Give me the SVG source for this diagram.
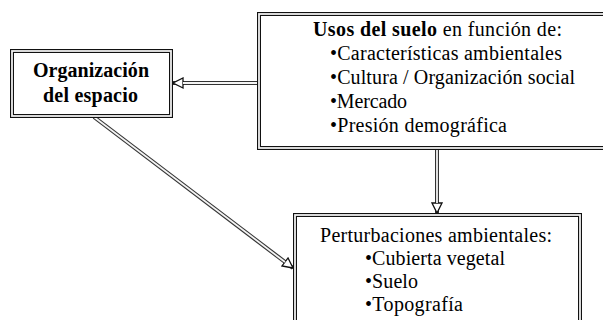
<svg xmlns="http://www.w3.org/2000/svg" width="603" height="320" viewBox="0 0 603 320">
<style>
  .box-o { fill: #fff; stroke: #111; stroke-width: 4; }
  .box-i { fill: none; stroke: #f0f0f0; stroke-width: 1.8; }
  .ln-o { fill: none; stroke: #333; stroke-width: 4; }
  .ln-i { fill: none; stroke: #f4f4f4; stroke-width: 1.8; }
  text { font-family: "Liberation Serif", "Times New Roman", serif; font-size: 20px; fill: #000; }
  .b { font-weight: bold; }
</style>
<defs>
  <marker id="arr" markerUnits="userSpaceOnUse" markerWidth="12" markerHeight="12" viewBox="0 0 12 12" refX="11" refY="6" orient="auto">
    <path d="M1,1 L11,6 L1,11 z" fill="#fff" stroke="#111" stroke-width="1.3"/>
  </marker>
</defs>
<rect width="603" height="320" fill="#fff"/>
<g id="connectors">
  <path class="ln-o" d="M257,83 L173,83" marker-end="url(#arr)"/>
  <path class="ln-i" d="M257,83 L183,83"/>
  <path class="ln-o" d="M437,150 L437,213" marker-end="url(#arr)"/>
  <path class="ln-i" d="M437,150 L437,203"/>
  <path class="ln-o" d="M94,117 L293,268" marker-end="url(#arr)"/>
  <path class="ln-i" d="M94,117 L285,262"/>
</g>
<g id="organizacion">
  <rect class="box-o" x="12" y="51" width="159" height="65"/>
  <rect class="box-i" x="12" y="51" width="159" height="65"/>
  <text class="b" x="33" y="77" textLength="116">Organización</text>
  <text class="b" x="43" y="102" textLength="95">del espacio</text>
</g>
<g id="usos">
  <rect class="box-o" x="259" y="14" width="361" height="134"/>
  <rect class="box-i" x="259" y="14" width="361" height="134"/>
  <text x="313" y="36" textLength="249"><tspan class="b">Usos del suelo</tspan> en función de:</text>
  <text x="330" y="60" textLength="232">•Características ambientales</text>
  <text x="330" y="84" textLength="245">•Cultura / Organización social</text>
  <text x="330" y="108" textLength="77">•Mercado</text>
  <text x="330" y="132" textLength="177">•Presión demográfica</text>
</g>
<g id="perturbaciones">
  <rect class="box-o" x="295" y="215" width="285" height="120"/>
  <rect class="box-i" x="295" y="215" width="285" height="120"/>
  <text x="320" y="242" textLength="232">Perturbaciones ambientales:</text>
  <text x="365" y="265" textLength="140">•Cubierta vegetal</text>
  <text x="365" y="288" textLength="53">•Suelo</text>
  <text x="365" y="311" textLength="98">•Topografía</text>
</g>
</svg>
